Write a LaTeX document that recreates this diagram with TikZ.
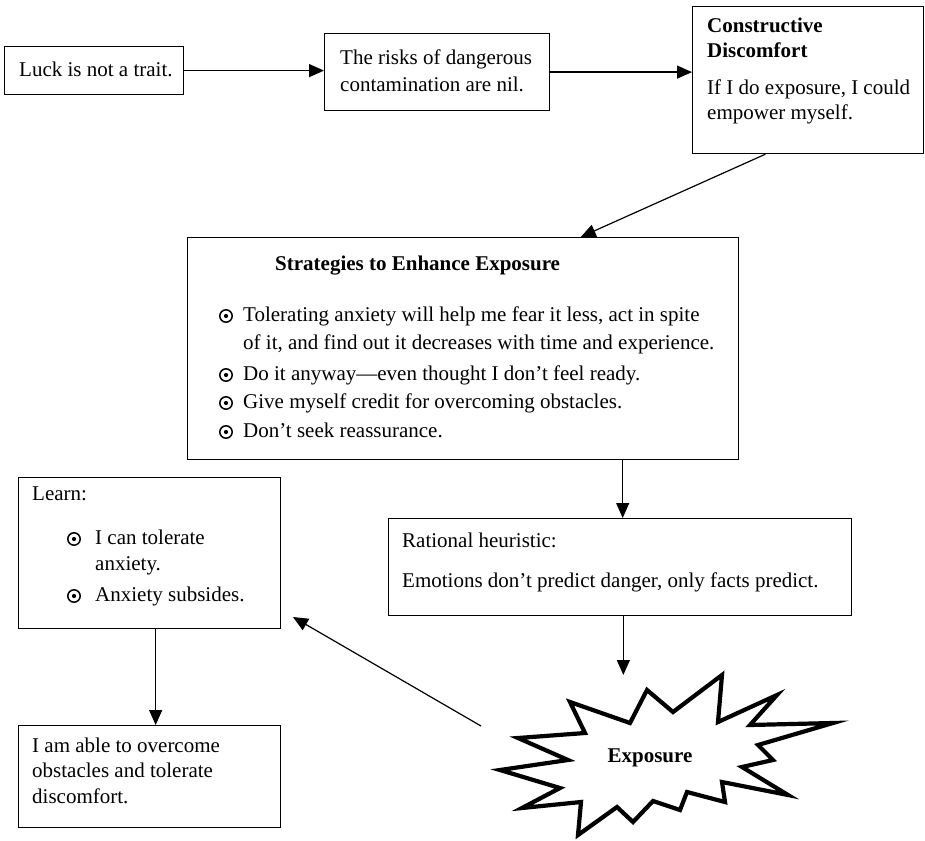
\documentclass[tikz,border=0pt]{standalone}
\usepackage{fontspec}
\setmainfont{Liberation Serif}
\usetikzlibrary{arrows.meta,calc}
\tikzset{
  box/.style={draw, line width=1.2pt, inner sep=0pt, anchor=north west},
  txt/.style={anchor=west, inner sep=0pt, text height=14pt, text depth=4pt, font=\fontsize{21}{24}\selectfont},
  btxt/.style={txt, font=\fontsize{21}{24}\selectfont\bfseries},
  arr/.style={line width=1.2pt, -{Triangle[length=15pt,width=13pt]}},
  cbul/.style={line width=1.5pt},
}
\newcommand{\cbullet}[1]{\draw[cbul] (#1) circle (6.2pt); \fill (#1) circle (2.1pt);}
\begin{document}
\begin{tikzpicture}[x=1pt,y=-1pt]
\useasboundingbox (0,0) rectangle (925,840);
% boxes
\node[box, minimum width=179pt, minimum height=48pt] (b1) at (4,46) {};
\node[box, minimum width=225pt, minimum height=77pt] (b2) at (324,33) {};
\node[box, minimum width=231pt, minimum height=147pt] (b3) at (692,6) {};
\node[box, minimum width=551pt, minimum height=222pt] (strat) at (187,237) {};
\node[box, minimum width=463pt, minimum height=97pt] (rat) at (388,518) {};
\node[box, minimum width=262pt, minimum height=151pt] (learn) at (18,477) {};
\node[box, minimum width=262pt, minimum height=102pt] (able) at (18,725) {};
% texts
\node[txt] (t1) at (19,72) {Luck is not a trait.};
\node[txt] (t2a) at (340,60) {The risks of dangerous};
\node[txt] (t2b) at (340,87) {contamination are nil.};
\node[btxt] (t3a) at (707,28) {Constructive};
\node[btxt] (t3b) at (707,53) {Discomfort};
\node[txt] (t3c) at (707,90) {If I do exposure, I could};
\node[txt] (t3d) at (707,115) {empower myself.};
\node[btxt] (s0) at (275,265) {Strategies to Enhance Exposure};
\node[txt] (s1a) at (243,316) {Tolerating anxiety will help me fear it less, act in spite};
\node[txt] (s1b) at (243,344) {of it, and find out it decreases with time and experience.};
\node[txt] (s2) at (243,375) {Do it anyway—even thought I don’t feel ready.};
\node[txt] (s3) at (243,403) {Give myself credit for overcoming obstacles.};
\node[txt] (s4) at (243,432) {Don’t seek reassurance.};
\cbullet{226,316}
\cbullet{226,375}
\cbullet{226,403}
\cbullet{226,432}
\node[txt] (r1) at (402,542) {Rational heuristic:};
\node[txt] (r2) at (402,582) {Emotions don’t predict danger, only facts predict.};
\node[txt] (l0) at (32,495) {Learn:};
\node[txt] (l1a) at (95,539) {I can tolerate};
\node[txt] (l1b) at (95,565) {anxiety.};
\node[txt] (l2) at (95,596) {Anxiety subsides.};
\cbullet{74,539}
\cbullet{74,596}
\node[txt] (a1) at (32,747) {I am able to overcome};
\node[txt] (a2) at (32,772) {obstacles and tolerate};
\node[txt] (a3) at (32,798) {discomfort.};
% starburst
\draw[line width=4.2pt, line join=miter, miter limit=20, fill=white]
 (570,702) -- (630,723) -- (647,690) -- (673,712) -- (722,675) -- (718,722)
 -- (777,695) -- (750,725) -- (833,723) -- (758,745) -- (773,760) -- (742,767)
 -- (788,795) -- (722,782) -- (725,802) -- (687,792) -- (680,810) -- (653,801)
 -- (633,822) -- (617,807) -- (578,835) -- (581,802) -- (522,808) -- (560,788)
 -- (500,770) -- (568,760) -- (518,738) -- (585,733) -- cycle;
\node[font=\fontsize{21}{24}\selectfont\bfseries, inner sep=0pt] (expo) at (650,758) {Exposure};
% connectors
\coordinate (b3out) at ($(b3.south west)!0.316!(b3.south east)$);
\coordinate (stratin) at ($(strat.north west)!0.713!(strat.north east)$);
\coordinate (stratout) at ($(strat.south west)!0.789!(strat.south east)$);
\coordinate (ratout) at ($(rat.south west)!0.507!(rat.south east)$);
\coordinate (extop) at (ratout |- 0,675);
\coordinate (exleft) at (481,726);
\coordinate (learntip) at (293,617);
\coordinate (learnout) at ($(learn.south west)!0.523!(learn.south east)$);
\draw[arr] (b1.east) -- (b1.east -| b2.west);
\draw[arr] (b2.east) -- (b2.east -| b3.west);
\draw[arr] (b3out) -- (stratin);
\draw[arr] (stratout) -- (stratout |- rat.north);
\draw[arr] (ratout) -- (extop);
\draw[arr] (exleft) -- (learntip);
\draw[arr] (learnout) -- (learnout |- able.north);
\end{tikzpicture}
\end{document}
